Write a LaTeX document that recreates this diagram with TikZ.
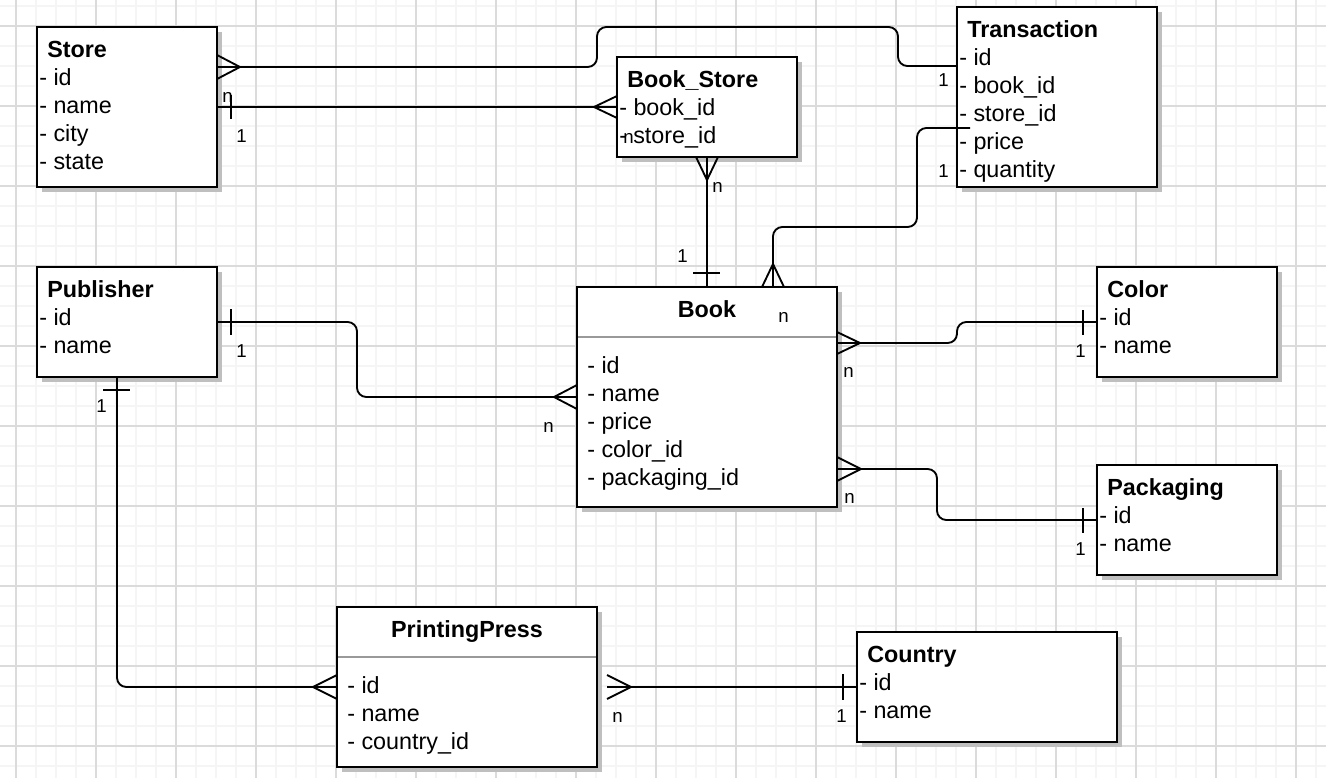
\documentclass[tikz,border=0pt]{standalone}
\usepackage{fontspec}
\setmainfont{Liberation Sans}
\usetikzlibrary{calc,shadows}

\tikzset{
  tbl/.style={draw, line width=1.5pt, fill=white, inner sep=0pt, outer sep=0pt,
    drop shadow={shadow xshift=3.5pt, shadow yshift=-3.5pt, fill=black!25, opacity=1}},
  dims/.style 2 args={minimum width=#1*0.75pt, minimum height=#2*0.75pt},
  ttl/.style={anchor=base west, inner sep=0pt, font=\fontsize{17.5}{20}\selectfont\bfseries},
  fld/.style={anchor=base west, inner sep=0pt, font=\fontsize{17.5}{20}\selectfont},
  lbl/.style={anchor=base west, inner sep=0pt, font=\fontsize{14}{16}\selectfont},
  rel/.style={line width=1.4pt, rounded corners=7pt},
  foot/.style={line width=1.4pt, line join=miter},
  sep/.style={line width=1.5pt, draw=black!40},
  gridminor/.style={line width=1.5pt, draw=black!4},
  gridmajor/.style={line width=0.8pt, draw=black!14}
}

\begin{document}
\begin{tikzpicture}[x=0.75pt,y=-0.75pt]
    \useasboundingbox (0,0) rectangle (1326,778);
    \fill[white] (0,0) rectangle (1326,778);
    % grid
    \foreach \gx in {16,36,...,1316} \draw[gridminor] (\gx,0) -- (\gx,778);
    \foreach \gy in {6,26,...,766} \draw[gridminor] (0,\gy) -- (1326,\gy);
    \foreach \gx in {16,96,...,1296} \draw[gridmajor] (\gx,0) -- (\gx,778);
    \foreach \gy in {26,106,...,746} \draw[gridmajor] (0,\gy) -- (1326,\gy);

    % tables
    \node[tbl, dims={180}{160}] (store) at (127,107) {};
    \node[tbl, dims={180}{100}] (bookstore) at (707,107) {};
    \node[tbl, dims={200}{180}] (trans) at (1057,97) {};
    \node[tbl, dims={180}{110}] (publisher) at (127,322) {};
    \node[tbl, dims={260}{220}] (book) at (707,397) {};
    \node[tbl, dims={180}{110}] (color) at (1187,322) {};
    \node[tbl, dims={180}{110}] (packaging) at (1187,520) {};
    \node[tbl, dims={260}{160}] (press) at (467,687) {};
    \node[tbl, dims={260}{110}] (country) at (987,687) {};

    \draw[sep] ($(book.north west)+(1,50)$) -- ($(book.north east)+(-1,50)$);
    \draw[sep] ($(press.north west)+(1,50)$) -- ($(press.north east)+(-1,50)$);

    % Store
    \node[ttl] (store-t) at (47,57) {Store};
    \node[fld] (store-1) at (39,85) {- id};
    \node[fld] (store-2) at (39,113) {- name};
    \node[fld] (store-3) at (39,141) {- city};
    \node[fld] (store-4) at (39,169) {- state};

    % Book_Store
    \node[ttl] (bookstore-t) at (627,87) {Book\_Store};
    \node[fld] (bookstore-1) at (619,115) {- book\_id};
    \node[fld] (bookstore-2) at (619,143) {-};
    \node[fld] (bookstore-3) at (633,143) {store\_id};

    % Transaction
    \node[ttl] (trans-t) at (967,37) {Transaction};
    \node[fld] (trans-1) at (959,65) {- id};
    \node[fld] (trans-2) at (959,93) {- book\_id};
    \node[fld] (trans-3) at (959,121) {- store\_id};
    \node[fld] (trans-4) at (959,149) {- price};
    \node[fld] (trans-5) at (959,177) {- quantity};

    % Publisher
    \node[ttl] (publisher-t) at (47,297) {Publisher};
    \node[fld] (publisher-1) at (39,325) {- id};
    \node[fld] (publisher-2) at (39,353) {- name};

    % Book
    \node[ttl, anchor=base] (book-t) at (707,317) {Book};
    \node[fld] (book-1) at (587,373) {- id};
    \node[fld] (book-2) at (587,401) {- name};
    \node[fld] (book-3) at (587,429) {- price};
    \node[fld] (book-4) at (587,457) {- color\_id};
    \node[fld] (book-5) at (587,485) {- packaging\_id};

    % Color
    \node[ttl] (color-t) at (1107,297) {Color};
    \node[fld] (color-1) at (1099,325) {- id};
    \node[fld] (color-2) at (1099,353) {- name};

    % Packaging
    \node[ttl] (packaging-t) at (1107,495) {Packaging};
    \node[fld] (packaging-1) at (1099,523) {- id};
    \node[fld] (packaging-2) at (1099,551) {- name};

    % PrintingPress
    \node[ttl, anchor=base] (press-t) at (467,637) {PrintingPress};
    \node[fld] (press-1) at (347,693) {- id};
    \node[fld] (press-2) at (347,721) {- name};
    \node[fld] (press-3) at (347,749) {- country\_id};

    % Country
    \node[ttl] (country-t) at (867,662) {Country};
    \node[fld] (country-1) at (859,690) {- id};
    \node[fld] (country-2) at (859,718) {- name};

    % Store - Transaction
    \draw[rel] ($(store.north east)+(0,40)$) -- ++(380,0) -- ++(0,-40) -- ++(301,0) |- ($(trans.north west)+(0,59)$);
    \draw[foot] ($(store.north east)+(0,28)$) -- ++(23,12) -- ++(-23,12);

    % Store - Book_Store
    \draw[rel] (store.east) -- (bookstore.west);
    \draw[foot] ($(store.east)+(14,-12)$) -- ++(0,24);
    \draw[foot] ($(bookstore.west)+(0,-11)$) -- ++(-23,11) -- ++(23,11);

    % Book_Store - Book
    \draw[rel] (bookstore.south) -- (book.north);
    \draw[foot] ($(bookstore.south)+(-11,0)$) -- ++(11,23) -- ++(11,-23);
    \draw[foot] ($(book.north)+(-14,-14)$) -- ++(27,0);

    % Transaction price - Book
    \draw[rel] ($(trans.north west)+(13,121)$) -| ++(-53,99) -| ($(book.north)+(66,0)$);
    \draw[foot] ($(book.north)+(55,0)$) -- ++(11,-23) -- ++(11,23);

    % Publisher - Book
    \draw[rel] (publisher.east) -- ++(140,0) |- (book.west);
    \draw[foot] ($(publisher.east)+(14,-13)$) -- ++(0,26);
    \draw[foot] ($(book.west)+(0,-12)$) -- ++(-23,12) -- ++(23,12);

    % Publisher - PrintingPress
    \draw[rel] ($(publisher.south)+(-10,0)$) |- (press.west);
    \draw[foot] ($(publisher.south)+(-24,13)$) -- ++(27,0);
    \draw[foot] ($(press.west)+(0,-12)$) -- ++(-24,12) -- ++(24,12);

    % PrintingPress - Country
    \draw[rel] ($(press.east)+(10,0)$) -- (country.west);
    \draw[foot] ($(press.east)+(10,-12)$) -- ++(24,12) -- ++(-24,12);
    \draw[foot] ($(country.west)+(-14,-13)$) -- ++(0,26);

    % Book - Color
    \draw[rel] ($(book.north east)+(0,56)$) -- ++(120,0) |- (color.west);
    \draw[foot] ($(book.north east)+(0,45)$) -- ++(23,11) -- ++(-23,11);
    \draw[foot] ($(color.west)+(-14,-12)$) -- ++(0,25);

    % Book - Packaging
    \draw[rel] ($(book.north east)+(0,182)$) -- ++(100,0) |- (packaging.west);
    \draw[foot] ($(book.north east)+(0,170)$) -- ++(24,12) -- ++(-24,12);
    \draw[foot] ($(packaging.west)+(-14,-12)$) -- ++(0,25);

    % cardinalities
    \node[lbl] (c-st1) at (938,86) {1};
    \node[lbl] (c-sb1) at (222,102) {n};
    \node[lbl] (c-sb2) at (236,142) {1};
    \node[lbl] (c-sb3) at (623,143) {n};
    \node[lbl] (c-bb1) at (712,192) {n};
    \node[lbl] (c-bb2) at (677,262) {1};
    \node[lbl] (c-tb1) at (938,177) {1};
    \node[lbl] (c-tb2) at (778,322) {n};
    \node[lbl] (c-pb1) at (236,357) {1};
    \node[lbl] (c-pb2) at (543,432) {n};
    \node[lbl] (c-pp1) at (96,412) {1};
    \node[lbl] (c-pc1) at (612,722) {n};
    \node[lbl] (c-pc2) at (836,722) {1};
    \node[lbl] (c-bc1) at (843,377) {n};
    \node[lbl] (c-bc2) at (1075,357) {1};
    \node[lbl] (c-bp1) at (844,503) {n};
    \node[lbl] (c-bp2) at (1075,555) {1};
\end{tikzpicture}
\end{document}
